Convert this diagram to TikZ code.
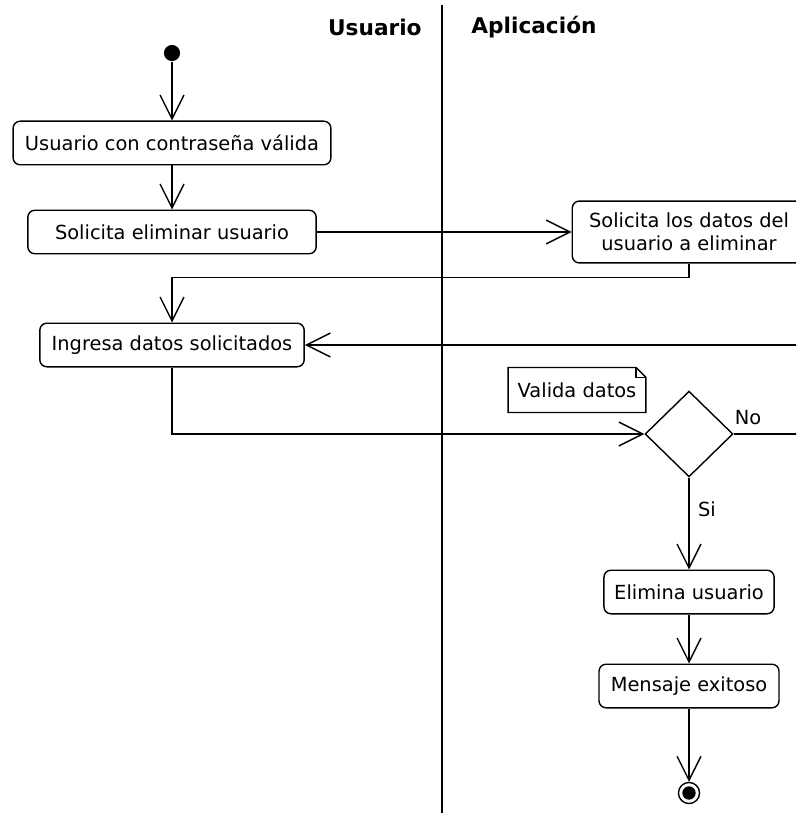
\documentclass[tikz,border=0pt]{standalone}
\usepackage{fontspec}
\setmainfont{DejaVu Sans}
\usetikzlibrary{arrows.meta,shapes.geometric}

\begin{document}
\begin{tikzpicture}[x=0.025cm, y=-0.025cm, line width=1pt,
  every node/.style = {font=\fontsize{13.8}{16.5}\selectfont}]
    \tikzstyle{activity}=[shape=rectangle, rounded corners=5pt, draw,
      align=center, fill=white, minimum height=31pt]
    \tikzstyle{lane}=[font=\fontsize{15.4}{18}\selectfont\bfseries]
    \tikzstyle{flow}=[-{Straight Barb[length=17pt,width=17pt]}]
  \useasboundingbox (0,0) rectangle (796,813);
  \clip (0,0) rectangle (796,813);
  % lanes
  \node [lane, anchor=east] (usuario) at (427,27) {Usuario};
  \node [lane, anchor=west] (aplicacion) at (466,27) {Aplicación};
  \draw (442,5) -- (442,813);
  % activities
  \node [circle, fill, inner sep=0pt, minimum size=11.5pt] (inicio) at (172,53) {};
  \node [activity, minimum width=226pt] (valida) at (172,143) {Usuario con contraseña válida};
  \node [activity, minimum width=205pt] (solicita) at (172,232) {Solicita eliminar usuario};
  \node [activity, minimum width=166pt, minimum height=44pt] (datos) at (689,232)
    {Solicita los datos del\\usuario a eliminar};
  \node [activity, minimum width=188pt] (ingresa) at (172,345) {Ingresa datos solicitados};
  \node [diamond, draw, fill=white, inner sep=0pt, minimum width=62.5pt,
    minimum height=61pt] (decision) at (689,434) {};
  \node [minimum width=97pt, minimum height=31pt] (nota) at (577,390) {Valida datos};
  \node [activity, minimum width=121pt] (elimina) at (689,592) {Elimina usuario};
  \node [activity, minimum width=128pt] (mensaje) at (689,686) {Mensaje exitoso};
  \node [circle, draw, inner sep=0pt, minimum size=15pt] (fin) at (689,793) {};
  \node [circle, fill, inner sep=0pt, minimum size=9.5pt] (finpunto) at (fin) {};
  % note
  \draw (nota.north west) -- ([xshift=-7pt]nota.north east)
    -- ([yshift=-7pt]nota.north east) -- (nota.south east)
    -- (nota.south west) -- cycle;
  \draw ([xshift=-7pt]nota.north east) |- ([yshift=-7pt]nota.north east);
  % flows
  \draw [flow] (inicio) -- (valida);
  \draw [flow] (valida) -- (solicita);
  \draw [flow] (solicita) -- (datos);
  \draw [flow] (datos.south) -- ++(0,14) -| (ingresa.north);
  \draw [flow] (ingresa.south) |- (decision.west);
  \draw [flow] (decision.east) -- ++(90,0) |- (ingresa.east);
  \node (no) at (748,418) {No};
  \draw [flow] (decision.south) -- (elimina)
    node [pos=0.34, right, inner sep=6pt] (si) {Si};
  \draw [flow] (elimina) -- (mensaje);
  \draw [flow] (mensaje) -- (fin);
\end{tikzpicture}
\end{document}
